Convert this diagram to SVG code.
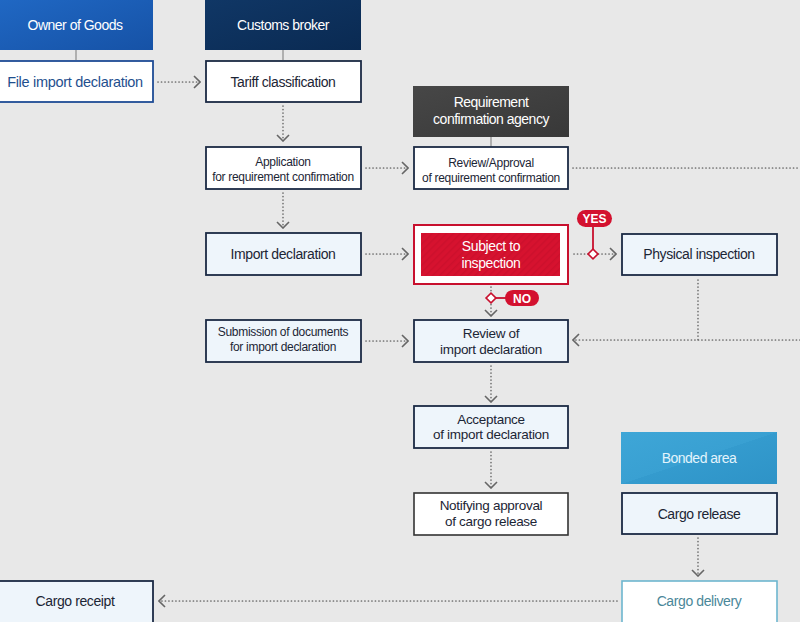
<svg xmlns="http://www.w3.org/2000/svg" width="800" height="622" viewBox="0 0 800 622">
<defs>
<style>
.t{font-family:"Liberation Sans",Arial,sans-serif;text-anchor:middle;fill:#1c2535;letter-spacing:-0.4px}
.h{font-size:14px;fill:#ffffff;letter-spacing:-0.5px}
.m{font-size:14px}
.s{font-size:12px;letter-spacing:-0.3px}
.d{font-size:13.5px;letter-spacing:-0.3px}
.box{stroke:#1b2a44;stroke-width:1.8}
.wb{fill:#ffffff}
.lb{fill:#eef5fb}
.dot{fill:none;stroke:#707070;stroke-width:1.7;stroke-dasharray:0.1 3.4;stroke-linecap:round}
.tick{stroke:#8a8a8a;stroke-width:1.2}
.red{fill:#d3112f}
.redl{stroke:#c8102e;stroke-width:1.8;fill:none}
</style>
<marker id="chev" viewBox="0 0 8 14" refX="7" refY="7" markerWidth="8" markerHeight="14" markerUnits="userSpaceOnUse" orient="auto">
<path d="M1,1 L7,7 L1,13" fill="none" stroke="#666666" stroke-width="1.6"/>
</marker>
<linearGradient id="gOwner" x1="0" y1="0" x2="1" y2="1">
<stop offset="0" stop-color="#2068c4"/><stop offset="1" stop-color="#1652a6"/>
</linearGradient>
<linearGradient id="gBroker" x1="0" y1="0" x2="1" y2="1">
<stop offset="0" stop-color="#103766"/><stop offset="1" stop-color="#0a2a52"/>
</linearGradient>
<linearGradient id="gAgency" x1="0" y1="0" x2="1" y2="1">
<stop offset="0" stop-color="#474747"/><stop offset="1" stop-color="#383838"/>
</linearGradient>
<linearGradient id="gBonded" x1="0" y1="0" x2="1" y2="1">
<stop offset="0" stop-color="#3ea6d7"/><stop offset="0.5" stop-color="#39a0d2"/><stop offset="0.5" stop-color="#349bce"/><stop offset="1" stop-color="#2e93c7"/>
</linearGradient>
<pattern id="hatch" width="5" height="5" patternUnits="userSpaceOnUse" patternTransform="rotate(45)">
<rect width="5" height="5" fill="#d6122f"/>
<rect width="1.5" height="5" fill="#cc102c"/>
</pattern>
</defs>
<rect width="800" height="622" fill="#e8e8e8"/>

<g id="connectors">
<line class="tick" x1="76" y1="50" x2="76" y2="60"/>
<line class="tick" x1="283" y1="50" x2="283" y2="60"/>
<line class="tick" x1="491" y1="137" x2="491" y2="147"/>
<path class="dot" d="M158,82 H200" marker-end="url(#chev)"/>
<path class="dot" d="M283,106 V141" marker-end="url(#chev)"/>
<path class="dot" d="M366,168 H408" marker-end="url(#chev)"/>
<path class="dot" d="M573,168 H800"/>
<path class="dot" d="M283,193 V228" marker-end="url(#chev)"/>
<path class="dot" d="M366,254 H408" marker-end="url(#chev)"/>
<path class="dot" d="M574,254 H616" marker-end="url(#chev)"/>
<path class="dot" d="M698,280 V340"/>
<path class="dot" d="M800,340 H573" marker-end="url(#chev)"/>
<path class="dot" d="M491,287 V316" marker-end="url(#chev)"/>
<path class="dot" d="M366,341 H408" marker-end="url(#chev)"/>
<path class="dot" d="M491,366 V402" marker-end="url(#chev)"/>
<path class="dot" d="M491,452 V488" marker-end="url(#chev)"/>
<path class="dot" d="M698,538 V576" marker-end="url(#chev)"/>
<path class="dot" d="M617,601 H159" marker-end="url(#chev)"/>
</g>

<g id="yes">
<line class="redl" x1="593" y1="224" x2="593" y2="250"/>
<rect x="589.5" y="250.5" width="7" height="7" transform="rotate(45 593 254)" fill="#ffffff" stroke="#c8102e" stroke-width="1.6"/>
<rect class="red" x="577" y="210" width="35" height="17" rx="8.5"/>
<text class="t" x="594.5" y="223" style="font-size:12px;font-weight:bold;fill:#ffffff;letter-spacing:0">YES</text>
</g>
<g id="no">
<line class="redl" x1="495" y1="298" x2="507" y2="298"/>
<rect x="487.5" y="294.5" width="7" height="7" transform="rotate(45 491 298)" fill="#ffffff" stroke="#c8102e" stroke-width="1.6"/>
<rect class="red" x="505" y="290" width="34" height="16" rx="8"/>
<text class="t" x="522" y="302.5" style="font-size:12px;font-weight:bold;fill:#ffffff;letter-spacing:0">NO</text>
</g>

<g id="owner-header">
<rect x="-2" y="-2" width="155" height="52" fill="url(#gOwner)"/>
<text class="t h" x="75" y="30">Owner of Goods</text>
</g>
<g id="file-import">
<rect x="-2" y="61" width="155" height="41" fill="#ffffff" stroke="#1f4c95" stroke-width="1.8"/>
<text class="t" x="75" y="87" style="font-size:14.5px;fill:#1f4f8e;letter-spacing:-0.3px">File import declaration</text>
</g>
<g id="broker-header">
<rect x="205" y="-2" width="156" height="52" fill="url(#gBroker)"/>
<text class="t h" x="283" y="30">Customs broker</text>
</g>
<g id="tariff">
<rect class="box wb" x="206" y="61" width="155" height="41"/>
<text class="t m" x="283" y="87">Tariff classification</text>
</g>
<g id="application">
<rect class="box wb" x="206" y="147" width="155" height="42"/>
<text class="t s" x="283" y="166">Application</text>
<text class="t s" x="283" y="181">for requirement confirmation</text>
</g>
<g id="agency-header">
<rect x="413" y="86" width="156" height="51" fill="url(#gAgency)"/>
<text class="t h" x="491" y="107">Requirement</text>
<text class="t h" x="491" y="124">confirmation agency</text>
</g>
<g id="review-approval">
<rect class="box wb" x="414" y="147" width="154" height="42"/>
<text class="t s" x="491" y="167">Review/Approval</text>
<text class="t s" x="491" y="182">of requirement confirmation</text>
</g>
<g id="import-declaration">
<rect class="box lb" x="206" y="233" width="155" height="42"/>
<text class="t m" x="283" y="259">Import declaration</text>
</g>
<g id="subject-inspection">
<rect x="414" y="225" width="154" height="59" fill="#ffffff" stroke="#c8102e" stroke-width="2"/>
<rect x="421" y="233" width="139" height="43" fill="url(#hatch)"/>
<text class="t m" x="491" y="251" style="fill:#ffffff">Subject to</text>
<text class="t m" x="491" y="268" style="fill:#ffffff">inspection</text>
</g>
<g id="physical-inspection">
<rect class="box lb" x="622" y="234" width="155" height="41"/>
<text class="t m" x="699" y="259">Physical inspection</text>
</g>
<g id="submission">
<rect class="box lb" x="206" y="320" width="155" height="42"/>
<text class="t s" x="283" y="336">Submission of documents</text>
<text class="t s" x="283" y="351">for import declaration</text>
</g>
<g id="review-import">
<rect class="box lb" x="414" y="320" width="154" height="42"/>
<text class="t d" x="491" y="338">Review of</text>
<text class="t d" x="491" y="354">import declaration</text>
</g>
<g id="acceptance">
<rect class="box lb" x="414" y="406" width="154" height="42"/>
<text class="t d" x="491" y="424">Acceptance</text>
<text class="t d" x="491" y="439">of import declaration</text>
</g>
<g id="notifying">
<rect x="414" y="493" width="154" height="42" fill="#ffffff" stroke="#333333" stroke-width="1.6"/>
<text class="t d" x="491" y="510">Notifying approval</text>
<text class="t d" x="491" y="526">of cargo release</text>
</g>
<g id="bonded-header">
<rect x="621" y="432" width="156" height="52" fill="url(#gBonded)"/>
<text class="t h" x="699" y="463" style="fill:#e3f4fc">Bonded area</text>
</g>
<g id="cargo-release">
<rect class="box lb" x="622" y="493" width="155" height="41"/>
<text class="t m" x="699" y="519">Cargo release</text>
</g>
<g id="cargo-delivery">
<rect x="622" y="581" width="155" height="44" fill="#ffffff" stroke="#6db6cf" stroke-width="1.6"/>
<text class="t m" x="699" y="606" style="fill:#4a8799">Cargo delivery</text>
</g>
<g id="cargo-receipt">
<rect class="box lb" x="-2" y="581" width="155" height="44"/>
<text class="t m" x="75" y="606">Cargo receipt</text>
</g>
</svg>
